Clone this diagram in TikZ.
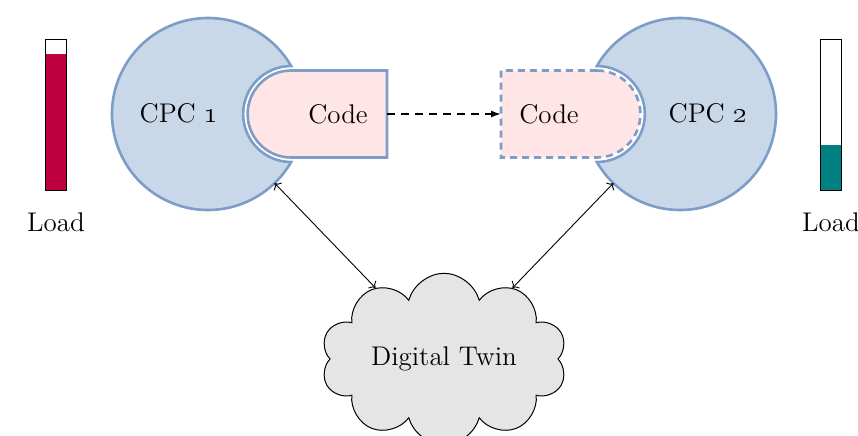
\documentclass[tikz,border=0pt]{standalone}
\usetikzlibrary{shapes.symbols,arrows.meta}
\definecolor{cpcfill}{RGB}{201,216,232}
\definecolor{cpcline}{RGB}{124,157,200}
\definecolor{codefill}{RGB}{255,229,230}
\begin{document}
\begin{tikzpicture}[x=0.5pt,y=-0.5pt,
  font=\fontsize{13.5}{16}\selectfont,
  anchorbox/.style={inner sep=0pt,outer sep=0pt},
  cpcshape/.style={fill=cpcfill,draw=cpcline,line width=1.3pt},
  codeshape/.style={fill=codefill,draw=cpcline,line width=1.3pt},
  loadbar/.style={draw=black,line width=0.5pt,minimum width=10.5pt,minimum height=75.5pt,inner sep=0pt},
  link/.style={<->,line width=0.45pt},
  twinstyle/.style={cloud,cloud puffs=10,aspect=1.6,draw=black,line width=0.5pt,fill=gray!20,
    minimum width=123pt,minimum height=82pt,inner sep=0pt}]
\useasboundingbox (0,0) rectangle (858,435);

% geometry: big circle radius 96, notch radius 48, code radius 43.5
\def\bigr{96}
\def\notchr{48}
\def\coder{43.5}

% ---- CPC 1 with its code block ----
\node[anchorbox,circle,minimum size=96pt] (cpc1) at (208,114) {};
\path[cpcshape] (cpc1.center) ++(30:\bigr) arc[start angle=30,end angle=330,radius=\bigr]
  arc[start angle=270,end angle=90,radius=\notchr] -- cycle;
\node[anchorbox,minimum width=69.7pt,minimum height=43.5pt] (code1) at (317.3,114) {};
\path[codeshape] (291.14,70.5) -- (387,70.5) -- (387,157.5) -- (291.14,157.5)
  arc[start angle=90,end angle=270,radius=\coder] -- cycle;
\node (cpc1txt) at (179,113) {CPC \oldstylenums{1}};
\node (code1txt) at (338,114) {Code};

% ---- CPC 2 with its (moved) code block ----
\node[anchorbox,circle,minimum size=96pt] (cpc2) at (680,114) {};
\path[cpcshape] (cpc2.center) ++(150:\bigr) arc[start angle=150,end angle=-150,radius=\bigr]
  arc[start angle=-90,end angle=90,radius=\notchr] -- cycle;
\node[anchorbox,minimum width=69.7pt,minimum height=43.5pt] (code2) at (570.7,114) {};
\path[codeshape,dash pattern=on 3.5pt off 2.5pt] (596.86,70.5) -- (501,70.5) -- (501,157.5) -- (596.86,157.5)
  arc[start angle=90,end angle=-90,radius=\coder] -- cycle;
\node (cpc2txt) at (708,113) {CPC \oldstylenums{2}};
\node (code2txt) at (549,114) {Code};

% ---- migration of the code ----
\draw[-{Latex[length=5pt,width=3.5pt]},line width=0.8pt,dash pattern=on 4pt off 3pt] (code1.east) -- (code2.west);

% ---- load indicators ----
\fill[purple] (45.7,54) rectangle (66.7,190);
\node[loadbar] (bar1) at (56.2,114.6) {};
\node (load1) at (56,222) {Load};
\fill[teal] (820.7,145) rectangle (841.7,190);
\node[loadbar] (bar2) at (831.2,114.6) {};
\node (load2) at (831,222) {Load};

% ---- digital twin ----
\node[twinstyle] (twin) at (444,359) {Digital Twin};
\draw[link] (cpc1) -- (twin);
\draw[link] (cpc2) -- (twin);
\end{tikzpicture}
\end{document}
